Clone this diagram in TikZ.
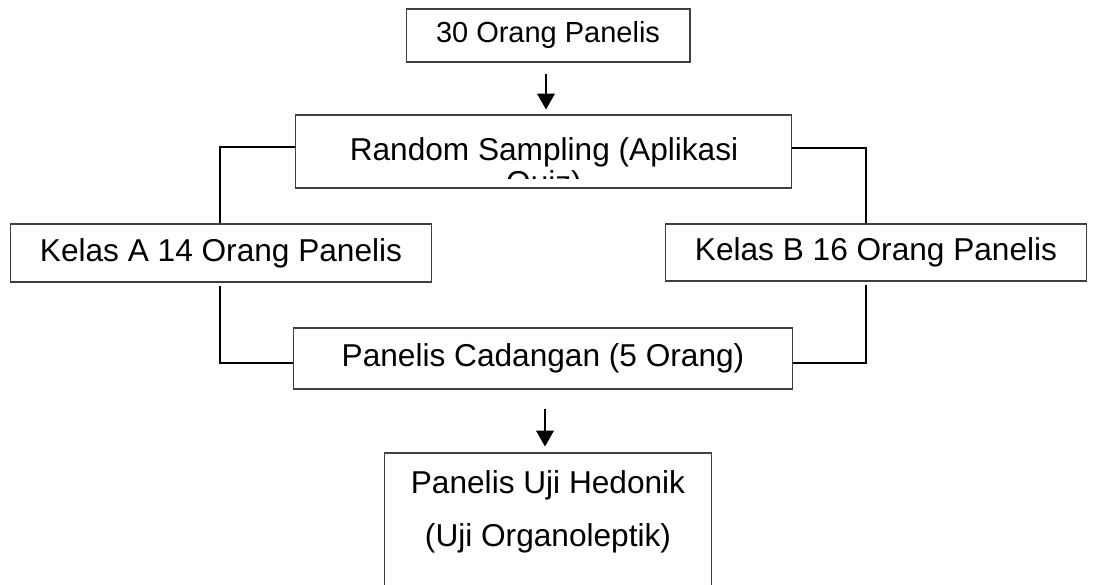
\documentclass[tikz,border=0pt]{standalone}
\usepackage{fontspec}
\setmainfont{Liberation Sans}
\usetikzlibrary{arrows.meta,positioning}
\begin{document}
\begin{tikzpicture}[x=0.02cm,y=-0.02cm,
	box/.style={draw=black!75,line width=0.6pt,inner sep=0pt,font=\fontsize{18}{21}\selectfont},
	conn/.style={line width=1.1pt},
	arr/.style={line width=0.9pt,-{Triangle[length=9pt,width=10pt]}}]
\clip (0,0) rectangle (1093,585);

% boxes
\node[box,minimum width=5.68cm,minimum height=1.06cm,font=\fontsize{16.5}{19}\selectfont] (panelis) at (548,35.5) {30 Orang Panelis};
\node[box,minimum width=9.94cm,minimum height=1.46cm] (sampling) at (543.5,151.5) {};
\begin{scope}
	\clip ([yshift=0.2cm]sampling.south west) rectangle (sampling.north east);
	\node[anchor=base,inner sep=0pt,font=\fontsize{18}{21}\selectfont] (samplingA) at (544,160) {Random Sampling (Aplikasi};
	\node[anchor=base,inner sep=0pt,font=\fontsize{18}{21}\selectfont] (samplingB) at (544,193) {Quiz)};
\end{scope}
\node[box,minimum width=8.44cm,minimum height=1.16cm] (kelasA) at (221,253) {Kelas A 14 Orang Panelis};
\node[box,minimum width=8.44cm,minimum height=1.14cm] (kelasB) at (876,252.5) {Kelas B 16 Orang Panelis};
\node[box,minimum width=10cm,minimum height=1.22cm] (cadangan) at (543,358.5) {Panelis Cadangan (5 Orang)};
\node[box,minimum width=6.56cm,minimum height=3cm] (hedonik) at (548,528) {};
\node[anchor=base,inner sep=0pt,font=\fontsize{18}{21}\selectfont] (hedonikA) at (548,493) {Panelis Uji Hedonik};
\node[anchor=base,inner sep=0pt,font=\fontsize{18}{21}\selectfont] (hedonikB) at (548,546) {(Uji Organoleptik)};

% arrows
\draw[arr,shorten <=11*0.02cm,shorten >=5*0.02cm] ([xshift=-0.04cm]panelis.south) -- ([xshift=-0.04cm]panelis.south |- sampling.north);
\draw[arr,shorten <=19*0.02cm,shorten >=6*0.02cm] ([xshift=0.04cm]cadangan.south) -- ([xshift=0.04cm]cadangan.south |- hedonik.north);

% connectors
\draw[conn] ([yshift=0.09cm]sampling.west) -| ([xshift=-0.02cm]kelasA.north);
\draw[conn] ([yshift=0.07cm]sampling.east) -| ([xshift=-0.2cm]kelasB.north);
\draw[conn] ([xshift=-0.02cm,yshift=-0.06cm]kelasA.south) |- ([yshift=-0.09cm]cadangan.west);
\draw[conn] ([xshift=-0.2cm,yshift=-0.06cm]kelasB.south) |- ([yshift=-0.09cm]cadangan.east);
\end{tikzpicture}
\end{document}
